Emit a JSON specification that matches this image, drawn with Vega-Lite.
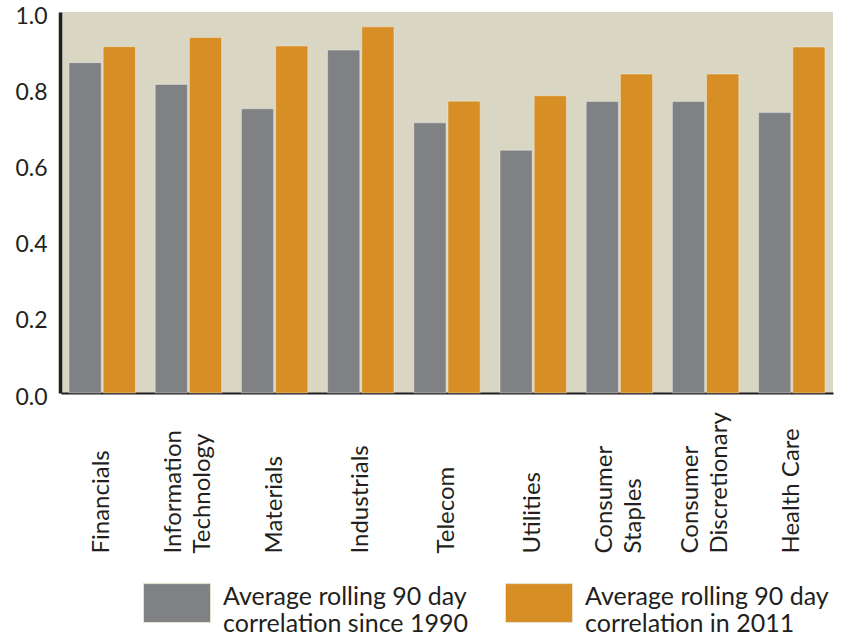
{
  "$schema": "https://vega.github.io/schema/vega-lite/v6.json",
  "width": 772,
  "height": 381,
  "autosize": {"type": "none"},
  "padding": {"left": 61, "top": 12, "right": 12, "bottom": 245},
  "background": "white",
  "config": {
    "font": "Lato",
    "view": {"fill": "#d9d7c3", "stroke": null}
  },
  "data": {
    "values": [
      {"sector": "Financials", "series": "Average rolling 90 day correlation since 1990", "value": 0.867},
      {"sector": "Financials", "series": "Average rolling 90 day correlation in 2011", "value": 0.909},
      {"sector": "Information Technology", "series": "Average rolling 90 day correlation since 1990", "value": 0.81},
      {"sector": "Information Technology", "series": "Average rolling 90 day correlation in 2011", "value": 0.933},
      {"sector": "Materials", "series": "Average rolling 90 day correlation since 1990", "value": 0.746},
      {"sector": "Materials", "series": "Average rolling 90 day correlation in 2011", "value": 0.911},
      {"sector": "Industrials", "series": "Average rolling 90 day correlation since 1990", "value": 0.9},
      {"sector": "Industrials", "series": "Average rolling 90 day correlation in 2011", "value": 0.961},
      {"sector": "Telecom", "series": "Average rolling 90 day correlation since 1990", "value": 0.709},
      {"sector": "Telecom", "series": "Average rolling 90 day correlation in 2011", "value": 0.766},
      {"sector": "Utilities", "series": "Average rolling 90 day correlation since 1990", "value": 0.637},
      {"sector": "Utilities", "series": "Average rolling 90 day correlation in 2011", "value": 0.78},
      {"sector": "Consumer Staples", "series": "Average rolling 90 day correlation since 1990", "value": 0.765},
      {"sector": "Consumer Staples", "series": "Average rolling 90 day correlation in 2011", "value": 0.837},
      {"sector": "Consumer Discretionary", "series": "Average rolling 90 day correlation since 1990", "value": 0.765},
      {"sector": "Consumer Discretionary", "series": "Average rolling 90 day correlation in 2011", "value": 0.837},
      {"sector": "Health Care", "series": "Average rolling 90 day correlation since 1990", "value": 0.736},
      {"sector": "Health Care", "series": "Average rolling 90 day correlation in 2011", "value": 0.908}
    ]
  },
  "mark": {"type": "bar", "stroke": "white", "strokeOpacity": 0.35, "strokeWidth": 1},
  "encoding": {
    "x": {
      "field": "sector",
      "type": "nominal",
      "sort": null,
      "scale": {"paddingInner": 0.23, "paddingOuter": 0.093},
      "axis": {
        "title": null,
        "domain": true,
        "domainColor": "#231f20",
        "domainWidth": 2,
        "ticks": false,
        "labelAngle": -90,
        "labelAlign": "left",
        "labelBaseline": "middle",
        "labelPadding": 160,
        "labelFontSize": 24,
        "labelLineHeight": 29,
        "labelColor": "#231f20",
        "labelLimit": 0,
        "labelOffset": {
          "condition": {
            "test": "indexof(['Information Technology', 'Consumer Staples', 'Consumer Discretionary'], datum.label) >= 0",
            "value": -14.5
          },
          "value": 0
        },
        "labelExpr": "indexof(['Information Technology', 'Consumer Staples', 'Consumer Discretionary'], datum.label) >= 0 ? split(datum.label, ' ') : datum.label"
      }
    },
    "xOffset": {
      "field": "series",
      "type": "nominal",
      "sort": null,
      "scale": {"paddingInner": 0.059, "paddingOuter": 0}
    },
    "y": {
      "field": "value",
      "type": "quantitative",
      "scale": {"domain": [0, 1], "nice": false},
      "axis": {
        "title": null,
        "values": [0, 0.2, 0.4, 0.6, 0.8, 1.0],
        "format": ".1f",
        "grid": false,
        "ticks": false,
        "domain": true,
        "domainColor": "#231f20",
        "domainWidth": 3.5,
        "offset": 1,
        "labelFontSize": 23,
        "labelPadding": 13,
        "labelOffset": 4,
        "labelColor": "#231f20"
      }
    },
    "color": {
      "field": "series",
      "type": "nominal",
      "sort": null,
      "scale": {"range": ["#808184", "#d68e25"]},
      "legend": {
        "title": null,
        "orient": "none",
        "legendX": 82,
        "legendY": 551,
        "direction": "horizontal",
        "columns": 2,
        "columnPadding": 35,
        "padding": 0,
        "symbolType": "M-1,-0.40H1V0.76H-1Z",
        "symbolSize": 4489,
        "symbolStrokeColor": "#e6e2d2",
        "symbolStrokeWidth": 1,
        "symbolOpacity": 1,
        "labelFontSize": 25,
        "labelColor": "#231f20",
        "labelOffset": 12,
        "labelLimit": 0,
        "labelBaseline": "middle",
        "labelExpr": "[slice(datum.label, 0, 22), slice(datum.label, 23)]"
      }
    }
  }
}
